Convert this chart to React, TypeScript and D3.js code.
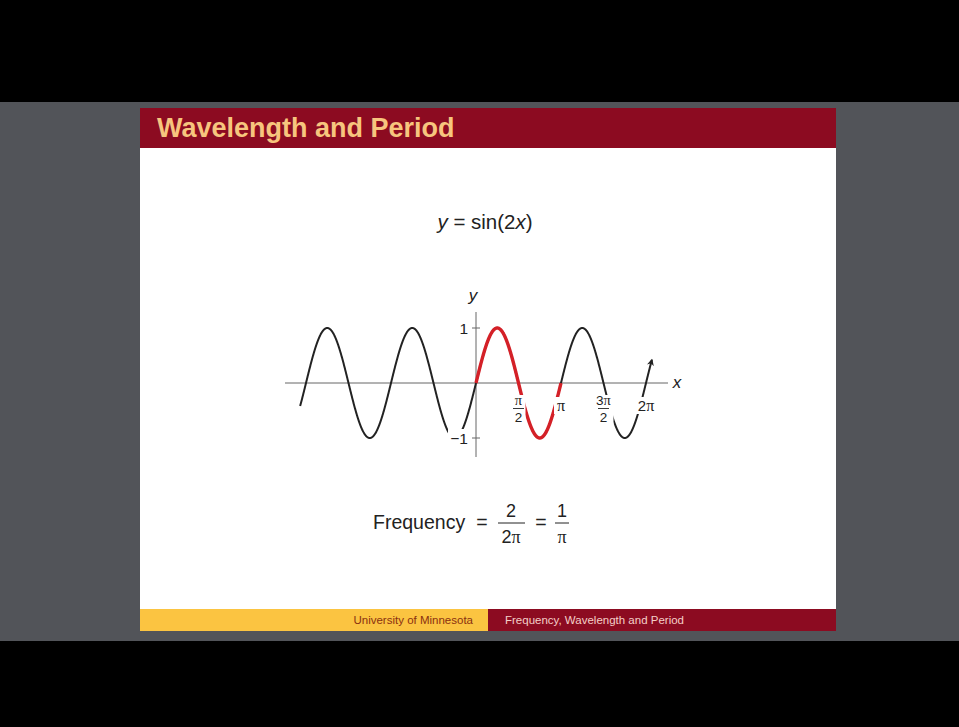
import React from "react";
import * as d3 from "d3";

// Plot of y = sin(2x) with one period highlighted
const angularFrequency = [2];
const curveDomain = [-6.5, 6.5];
const highlightDomain = [0, Math.PI];
const axisDomainX = [-2 * Math.PI, 2 * Math.PI];
const axisDomainY = [-1, 1];

// x-axis tick labels (numerator / denominator, empty denominator = plain label)
const xTickValues = [Math.PI / 2, Math.PI, (3 * Math.PI) / 2, 2 * Math.PI];
const xTickNumerators = ["π", "π", "3π", "2π"];
const xTickDenominators = ["2", "", "2", ""];

// y-axis ticks
const yTickValues = [1, -1];
const yTickLabels = ["1", "−1"];

// Slide texts
const slideTitle = "Wavelength and Period";
const footerLeft = "University of Minnesota";
const footerRight = "Frequency, Wavelength and Period";

const W = 959;
const H = 727;
const SANS = "'Liberation Sans', Arial, Helvetica, sans-serif";
const SERIF = "'Liberation Serif', 'Times New Roman', serif";

const MAROON = "#8c0b21";
const GOLD = "#fbc441";

export default function App() {
  const k = angularFrequency[0];
  const x = d3.scaleLinear().domain(axisDomainX).range([306, 646]);
  const y = d3.scaleLinear().domain(axisDomainY).range([438, 328]);

  const step = 0.005;
  const full = d3.range(curveDomain[0], curveDomain[1] + step / 2, step);
  const part = d3.range(highlightDomain[0], highlightDomain[1] + step / 2, step);

  const line = d3
    .line<number>()
    .x((t) => x(t))
    .y((t) => y(Math.sin(k * t)));

  const x0 = x(0);
  const y0 = y(0);

  return (
    <svg
      width={W}
      height={H}
      viewBox={`0 0 ${W} ${H}`}
      style={{ position: "absolute", left: 0, top: 0, display: "block" }}
    >
      <defs>
        <marker
          id="curveArrow"
          viewBox="0 0 10 10"
          refX="8"
          refY="5"
          markerWidth="7"
          markerHeight="7"
          markerUnits="userSpaceOnUse"
          orient="auto"
        >
          <path d="M0,0 L10,5 L0,10 L3,5 Z" fill="#222" />
        </marker>
      </defs>

      {/* letterbox + backdrop */}
      <rect x={0} y={0} width={W} height={H} fill="#000" />
      <rect x={0} y={102} width={W} height={539} fill="#525459" />

      {/* slide */}
      <rect x={140} y={108} width={696} height={523} fill="#fff" />
      <rect x={140} y={108} width={696} height={40} fill={MAROON} />
      <text
        x={157}
        y={137}
        fontFamily={SANS}
        fontWeight="bold"
        fontSize={27}
        fill="#f7c57e"
      >
        {slideTitle}
      </text>

      {/* footer */}
      <rect x={140} y={609} width={348} height={22} fill={GOLD} />
      <rect x={488} y={609} width={348} height={22} fill={MAROON} />
      <text
        x={473}
        y={624}
        textAnchor="end"
        fontFamily={SANS}
        fontSize={11.5}
        fill="#8a3010"
      >
        {footerLeft}
      </text>
      <text x={505} y={624} fontFamily={SANS} fontSize={11.5} fill="#f4cfc8">
        {footerRight}
      </text>

      {/* equation */}
      <text
        x={485}
        y={229}
        textAnchor="middle"
        fontFamily={SANS}
        fontSize={20.5}
        fill="#222"
      >
        <tspan fontStyle="italic">y</tspan>
        <tspan> = sin(2</tspan>
        <tspan fontStyle="italic">x</tspan>
        <tspan>)</tspan>
      </text>

      {/* axes */}
      <g stroke="#666" strokeWidth={1} fill="none">
        <line x1={285} x2={668} y1={y0} y2={y0} />
        <line x1={x0} x2={x0} y1={312} y2={457} />
        {yTickValues.map((v) => (
          <line key={v} x1={x0 - 4} x2={x0 + 4} y1={y(v)} y2={y(v)} />
        ))}
      </g>

      {/* curve */}
      <path
        d={line(full) ?? ""}
        fill="none"
        stroke="#222"
        strokeWidth={2}
        markerEnd="url(#curveArrow)"
      />
      <path
        d={line(part) ?? ""}
        fill="none"
        stroke="#d42027"
        strokeWidth={3.4}
        strokeLinecap="butt"
      />

      {/* label knock-outs */}
      <g fill="#fff">
        {xTickValues.map((v, i) => {
          const frac = xTickDenominators[i] !== "";
          const half = xTickNumerators[i].length > 1 ? 10 : 7;
          return (
            <rect
              key={v}
              x={x(v) - half}
              y={frac ? 395 : 397}
              width={half * 2}
              height={frac ? 29 : 17}
            />
          );
        })}
        <rect x={448} y={429} width={19} height={17} />
      </g>

      {/* x tick labels */}
      <g fontFamily={SANS} fill="#222" textAnchor="middle">
        {xTickValues.map((v, i) => {
          const cx = x(v);
          const den = xTickDenominators[i];
          if (den === "") {
            return (
              <text key={v} x={cx} y={411} fontSize={15}>
                {xTickNumerators[i].replace("π", "")}
                <tspan fontFamily={SERIF} fontSize={16}>π</tspan>
              </text>
            );
          }
          return (
            <g key={v}>
              <text x={cx} y={405} fontSize={13.5}>
                {xTickNumerators[i].replace("π", "")}
                <tspan fontFamily={SERIF} fontSize={14.5}>π</tspan>
              </text>
              <line
                x1={cx - 5.5}
                x2={cx + 5.5}
                y1={408.5}
                y2={408.5}
                stroke="#222"
                strokeWidth={0.9}
              />
              <text x={cx} y={421.5} fontSize={13.5}>
                {den}
              </text>
            </g>
          );
        })}
      </g>

      {/* y tick labels */}
      <g fontFamily={SANS} fill="#222" textAnchor="end" fontSize={15.5}>
        {yTickValues.map((v, i) => (
          <text key={v} x={x0 - 8} y={y(v) + 5.5}>
            {yTickLabels[i]}
          </text>
        ))}
      </g>

      {/* axis names */}
      <text
        x={x0 - 3}
        y={301}
        textAnchor="middle"
        fontFamily={SANS}
        fontStyle="italic"
        fontSize={17}
        fill="#222"
      >
        y
      </text>
      <text
        x={677}
        y={388}
        textAnchor="middle"
        fontFamily={SANS}
        fontStyle="italic"
        fontSize={17}
        fill="#222"
      >
        x
      </text>

      {/* frequency formula */}
      <g fontFamily={SANS} fill="#222" fontSize={19.5}>
        <text x={373} y={529}>
          Frequency
        </text>
        <text x={482} y={529} textAnchor="middle">
          =
        </text>
        <text x={511} y={517} textAnchor="middle" fontSize={18}>
          2
        </text>
        <line x1={498} x2={525} y1={523} y2={523} stroke="#222" strokeWidth={1} />
        <text x={511} y={543} textAnchor="middle" fontSize={18}>
          2<tspan fontFamily={SERIF}>π</tspan>
        </text>
        <text x={541} y={529} textAnchor="middle">
          =
        </text>
        <text x={562} y={517} textAnchor="middle" fontSize={18}>
          1
        </text>
        <line x1={555} x2={569} y1={523} y2={523} stroke="#222" strokeWidth={1} />
        <text x={562} y={543} textAnchor="middle" fontSize={18} fontFamily={SERIF}>
          π
        </text>
      </g>
    </svg>
  );
}
